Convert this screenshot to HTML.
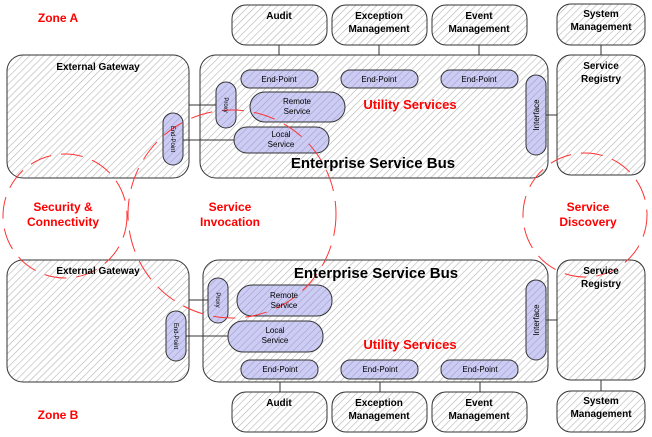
<!DOCTYPE html>
<html><head><style>html,body{margin:0;padding:0;background:#fff}svg{display:block}</style></head>
<body>
<svg width="652" height="437" viewBox="0 0 652 437" xmlns="http://www.w3.org/2000/svg" font-family="Liberation Sans, sans-serif">
<defs>
<pattern id="h" patternUnits="userSpaceOnUse" width="5" height="5" patternTransform="rotate(45)">
<rect width="5" height="5" fill="#fff"/><line x1="0" y1="0" x2="0" y2="5" stroke="#b4b4b4" stroke-width="1.2"/></pattern>
<pattern id="hb" patternUnits="userSpaceOnUse" width="5" height="5" patternTransform="rotate(45)">
<rect width="5" height="5" fill="#ccccf4"/><line x1="0" y1="0" x2="0" y2="5" stroke="#a0a0c8" stroke-width="1.2"/></pattern>
</defs>
<g stroke="#333" stroke-width="1">
<line x1="279" y1="45" x2="279" y2="70"/><line x1="379" y1="45" x2="379" y2="70"/><line x1="479" y1="45" x2="479" y2="70"/>
<line x1="601" y1="45" x2="601" y2="55"/>
<line x1="280" y1="379" x2="280" y2="392"/><line x1="380" y1="379" x2="380" y2="392"/><line x1="480" y1="379" x2="480" y2="392"/>
<line x1="601" y1="380" x2="601" y2="391"/>
<rect x="232" y="5" width="95" height="40" rx="14" fill="url(#h)"/>
<rect x="332" y="5" width="95" height="40" rx="14" fill="url(#h)"/>
<rect x="432" y="5" width="95" height="40" rx="14" fill="url(#h)"/>
<rect x="557" y="4" width="88" height="41" rx="14" fill="url(#h)"/>
<rect x="7" y="55" width="182" height="123" rx="16" fill="url(#h)"/>
<rect x="200" y="55" width="348" height="123" rx="16" fill="url(#h)"/>
<rect x="557" y="55" width="88" height="120" rx="14" fill="url(#h)"/>
<line x1="189" y1="105" x2="216" y2="105"/><line x1="183" y1="140" x2="234" y2="140"/><line x1="546" y1="115" x2="557" y2="115"/>
<rect x="241" y="70" width="77" height="18" rx="9" fill="url(#hb)"/>
<rect x="341" y="70" width="77" height="18" rx="9" fill="url(#hb)"/>
<rect x="441" y="70" width="77" height="18" rx="9" fill="url(#hb)"/>
<rect x="216" y="82" width="20" height="46" rx="10" fill="url(#hb)"/>
<rect x="250" y="92" width="95" height="30" rx="15" fill="url(#hb)"/>
<rect x="234" y="127" width="95" height="26" rx="13" fill="url(#hb)"/>
<rect x="163" y="113" width="20" height="52" rx="10" fill="url(#hb)"/>
<rect x="526" y="75" width="20" height="80" rx="10" fill="url(#hb)"/>
<rect x="7" y="260" width="182" height="122" rx="16" fill="url(#h)"/>
<rect x="203" y="260" width="345" height="122" rx="16" fill="url(#h)"/>
<rect x="557" y="260" width="88" height="120" rx="14" fill="url(#h)"/>
<line x1="189" y1="300" x2="208" y2="300"/><line x1="186" y1="336" x2="228" y2="336"/><line x1="546" y1="320" x2="557" y2="320"/>
<rect x="241" y="360" width="77" height="19" rx="9" fill="url(#hb)"/>
<rect x="341" y="360" width="77" height="19" rx="9" fill="url(#hb)"/>
<rect x="441" y="360" width="77" height="19" rx="9" fill="url(#hb)"/>
<rect x="208" y="278" width="20" height="45" rx="10" fill="url(#hb)"/>
<rect x="237" y="285" width="95" height="31" rx="15" fill="url(#hb)"/>
<rect x="228" y="321" width="95" height="31" rx="15" fill="url(#hb)"/>
<rect x="166" y="311" width="20" height="50" rx="10" fill="url(#hb)"/>
<rect x="526" y="280" width="20" height="80" rx="10" fill="url(#hb)"/>
<rect x="232" y="392" width="95" height="40" rx="14" fill="url(#h)"/>
<rect x="332" y="392" width="95" height="40" rx="14" fill="url(#h)"/>
<rect x="432" y="392" width="95" height="40" rx="14" fill="url(#h)"/>
<rect x="557" y="391" width="88" height="41" rx="14" fill="url(#h)"/>
</g>
<g fill="none" stroke="#f33" stroke-width="1" stroke-dasharray="22 10">
<circle cx="65" cy="216" r="62"/>
<circle cx="232" cy="214" r="104"/>
<circle cx="585" cy="215" r="62"/>
</g>
<g font-size="10" font-weight="bold" fill="#000" text-anchor="middle">
<text x="279" y="19">Audit</text>
<text x="379" y="19">Exception</text><text x="379" y="32">Management</text>
<text x="479" y="19">Event</text><text x="479" y="32">Management</text>
<text x="601" y="17">System</text><text x="601" y="30">Management</text>
<text x="98" y="70">External Gateway</text>
<text x="601" y="69">Service</text><text x="601" y="82">Registry</text>
<text x="98" y="274">External Gateway</text>
<text x="601" y="274">Service</text><text x="601" y="287">Registry</text>
<text x="279" y="406">Audit</text>
<text x="379" y="406">Exception</text><text x="379" y="419">Management</text>
<text x="479" y="406">Event</text><text x="479" y="419">Management</text>
<text x="601" y="404">System</text><text x="601" y="417">Management</text>
<text x="373" y="168" font-size="15">Enterprise Service Bus</text>
<text x="376" y="278" font-size="15">Enterprise Service Bus</text>
</g>
<g font-size="8" fill="#000" text-anchor="middle">
<text x="279" y="82">End-Point</text><text x="379" y="82">End-Point</text><text x="479" y="82">End-Point</text>
<text x="280" y="372">End-Point</text><text x="380" y="372">End-Point</text><text x="480" y="372">End-Point</text>
<text x="297" y="104">Remote</text><text x="297" y="114">Service</text>
<text x="281" y="137">Local</text><text x="281" y="147">Service</text>
<text x="284" y="298">Remote</text><text x="284" y="308">Service</text>
<text x="275" y="333">Local</text><text x="275" y="343">Service</text>
<text font-size="6" transform="translate(224,105) rotate(90)">Proxy</text>
<text font-size="6" transform="translate(171,139) rotate(90)">End-Point</text>
<text font-size="6" transform="translate(216,300) rotate(90)">Proxy</text>
<text font-size="6" transform="translate(174,336) rotate(90)">End-Point</text>
<text transform="translate(539,115) rotate(-90)">Interface</text>
<text transform="translate(539,320) rotate(-90)">Interface</text>
</g>
<g font-size="12" font-weight="bold" fill="#f00" text-anchor="middle">
<text x="58" y="22">Zone A</text>
<text x="58" y="419">Zone B</text>
<text x="410" y="109" font-size="13">Utility Services</text>
<text x="410" y="349" font-size="13">Utility Services</text>
<text x="63" y="211">Security &amp;</text><text x="63" y="226">Connectivity</text>
<text x="230" y="211">Service</text><text x="230" y="226">Invocation</text>
<text x="588" y="211">Service</text><text x="588" y="226">Discovery</text>
</g>
</svg>
</body></html>
